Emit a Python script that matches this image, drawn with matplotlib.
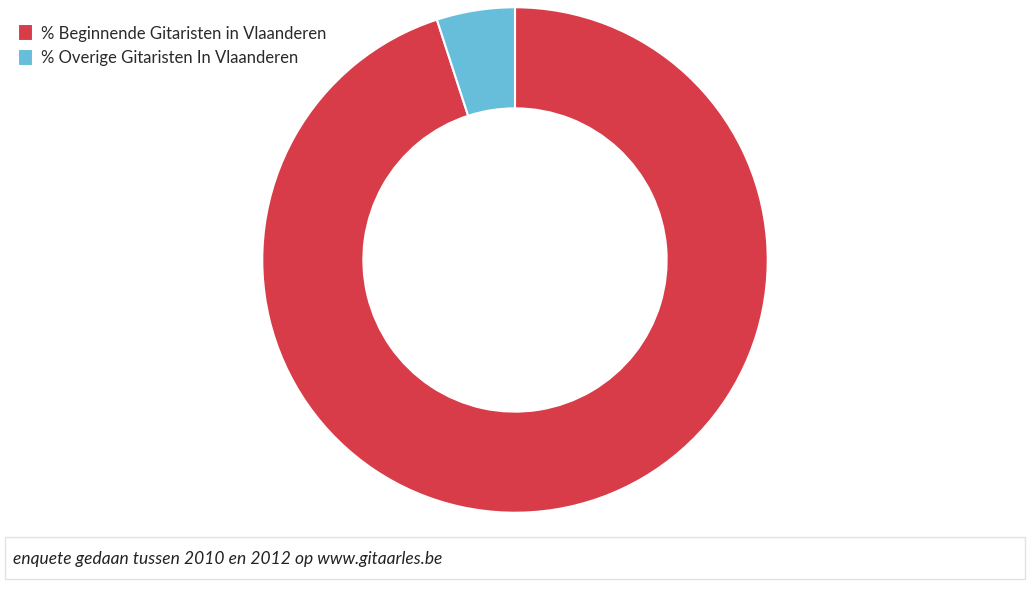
import matplotlib.pyplot as plt
from matplotlib.patches import Rectangle

# Data
labels = ["% Beginnende Gitaristen in Vlaanderen", "% Overige Gitaristen In Vlaanderen"]
values = [95, 5]
colors = ["#d93c49", "#67bedb"]
footer = "enquete gedaan tussen 2010 en 2012 op www.gitaarles.be"

plt.rcParams['font.family'] = ['Lato', 'DejaVu Sans']

W, H = 1031, 591
fig = plt.figure(figsize=(W / 100, H / 100), dpi=100)

# Donut axes: centre (515, 260), outer radius 254 px
cx, cy, r = 515, 260, 254
ax = fig.add_axes([(cx - r) / W, (H - cy - r) / H, 2 * r / W, 2 * r / H])
wedges, _ = ax.pie(values, colors=colors, startangle=90, counterclock=False,
                   radius=1, wedgeprops=dict(width=0.40, edgecolor='white', linewidth=1.5))
ax.set_xlim(-1.005, 1.005)
ax.set_ylim(-1.005, 1.005)
ax.set_aspect('auto')
ax.axis('off')

# Legend
leg = fig.legend(wedges, labels, loc='upper left', bbox_to_anchor=(15 / W, 1 - 21 / H),
                 frameon=False, handlelength=0.85, handleheight=1.2,
                 handletextpad=0.5, labelspacing=0.45, borderaxespad=0, borderpad=0.2,
                 prop=dict(family=['Lato', 'DejaVu Sans'], size=12))
for t in leg.get_texts():
    t.set_color('#2a2a2a')

# Footer box
fig.patches.append(Rectangle((5 / W, (H - 579) / H), 1020 / W, 42 / H,
                             transform=fig.transFigure, facecolor='white',
                             edgecolor='#e2e2e2', linewidth=1))
fig.text(13 / W, (H - 559) / H, footer, fontsize=12.5, style='italic',
         color='#222222', va='center', ha='left')

fig.savefig("out.png", dpi=100)
